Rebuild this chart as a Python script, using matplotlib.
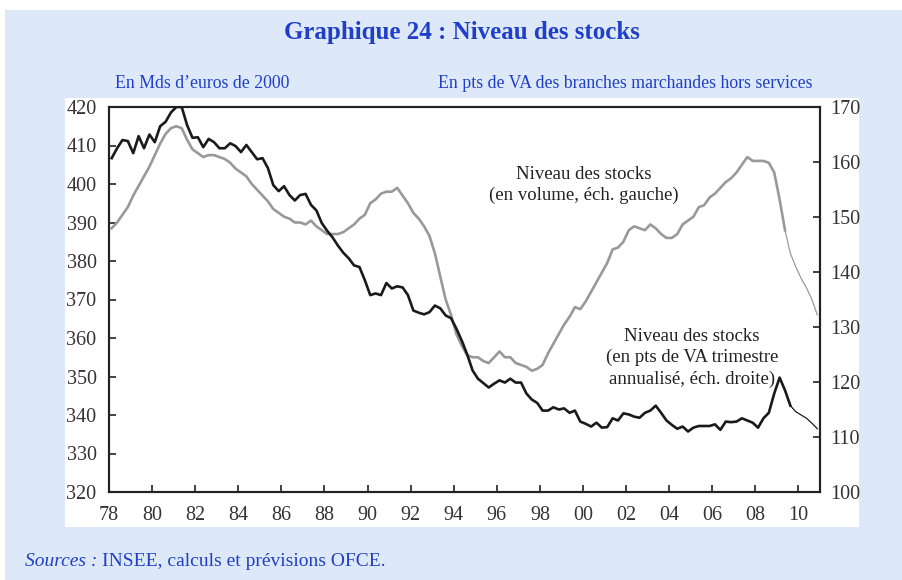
import matplotlib.pyplot as plt
import numpy as np

# Quarterly data 1978Q1 - 2010Q4
start_year = 1978

# Stock level in volume (bn euros 2000, left axis)
stocks_volume = [
    388.5, 390, 392, 394,
    397, 399.5, 402, 404.5,
    407.5, 410.5, 413, 414.5,
    415, 414.5, 411.5, 409,
    408, 407, 407.5, 407.5,
    407, 406.5, 405.5, 404,
    403, 402, 400, 398.5,
    397, 395.5, 393.5, 392.5,
    391.5, 391, 390, 390,
    389.5, 390.5, 389, 388,
    387, 387, 387, 387.5,
    388.5, 389.5, 391, 392,
    395, 396, 397.5, 398,
    398, 399, 397, 395,
    392.5, 391, 389, 386.5,
    382, 376, 370, 366,
    361, 358, 355.5, 355,
    355, 354, 353.5, 355,
    356.5, 355, 355, 353.5,
    353, 352.5, 351.5, 352,
    353, 356, 358.5, 361,
    363.5, 365.5, 368, 367.5,
    369.5, 372, 374.5, 377,
    379.5, 383, 383.5, 385,
    388, 389, 388.5, 388,
    389.5, 388.5, 387, 386,
    386, 387, 389.5, 390.5,
    391.5, 394, 394.5, 396.5,
    397.5, 399, 400.5, 401.5,
    403, 405, 407, 406,
    406, 406, 405.5, 403,
    396, 388, 382, 378.5,
    375.5, 373, 370, 366,
]

# Stock level in pts of quarterly VA annualised (right axis)
stocks_va = [
    160.7, 162.5, 164, 163.8,
    161.6, 164.7, 162.5, 165,
    163.6, 166.5, 167.3, 169,
    170, 170, 166.7, 164.4,
    164.5, 162.7, 164.2, 163.6,
    162.5, 162.5, 163.4, 162.9,
    161.8, 163.1, 161.8, 160.5,
    160.7, 158.9, 155.8, 154.7,
    155.6, 154, 153, 154,
    154.2, 152.2, 151.2, 148.9,
    147.5, 146.3, 144.8, 143.5,
    142.5, 141.2, 140.9, 138.5,
    135.8, 136.1, 135.8, 138,
    137, 137.4, 137.2, 135.8,
    133, 132.6, 132.3, 132.7,
    133.9, 133.4, 132.1, 131.6,
    129.7, 127.5, 125, 122.1,
    120.6, 119.8, 119, 119.7,
    120.3, 119.9, 120.6, 119.9,
    119.9, 117.9, 116.8, 116.2,
    114.8, 114.8, 115.4, 115,
    115.2, 114.4, 114.8, 112.8,
    112.4, 111.9, 112.6, 111.7,
    111.8, 113.4, 113, 114.3,
    114.1, 113.7, 113.5, 114.4,
    114.8, 115.7, 114.4, 113,
    112.2, 111.5, 111.9, 111,
    111.7, 112, 112, 112,
    112.3, 111.3, 112.8, 112.7,
    112.8, 113.4, 113, 112.6,
    111.7, 113.4, 114.4, 117.9,
    120.8, 118.5, 115.7, 114.6,
    114, 113.4, 112.5, 111.5,
]

forecast_start = 125  # 2009Q2, thin line after that
year_ticks = list(range(1978, 2011, 2))
year_labels = ['%02d' % (y % 100) for y in year_ticks]

t = start_year + (np.arange(len(stocks_volume)) + 0.5) / 4
vol = np.array(stocks_volume)
va = np.array(stocks_va)

blue_bg = '#dde9f8'
blue_txt = '#1f3fc8'
plt.rcParams['font.family'] = ['Liberation Serif', 'DejaVu Serif']

fig = plt.figure(figsize=(9.02, 5.8), dpi=100)
fig.patch.set_facecolor('white')
# background panels
fig.patches.append(plt.Rectangle((5 / 902, 0), 897 / 902, 570 / 580, transform=fig.transFigure,
                                 facecolor=blue_bg, edgecolor='none', zorder=-2))
fig.patches.append(plt.Rectangle((65 / 902, 53 / 580), 794 / 902, 429 / 580, transform=fig.transFigure,
                                 facecolor='white', edgecolor='none', zorder=-1))

ax = fig.add_axes([109 / 902, 88 / 580, 711 / 902, 385 / 580])
ax2 = ax.twinx()

ax.plot(t[:forecast_start + 1], vol[:forecast_start + 1], color='#999999', lw=1.9, zorder=2)
ax.plot(t[forecast_start:], vol[forecast_start:], color='#999999', lw=0.9, zorder=2)
ax2.plot(t[:forecast_start + 2], va[:forecast_start + 2], color='#1a1a1a', lw=1.9, zorder=3)
ax2.plot(t[forecast_start + 1:], va[forecast_start + 1:], color='#1a1a1a', lw=0.9, zorder=3)

ax.set_xlim(1978, 2011)
ax.set_ylim(320, 420)
ax2.set_ylim(100, 170)
ax.set_yticks(range(320, 421, 10))
ax2.set_yticks(range(100, 171, 10))
ax.set_xticks(year_ticks)
ax.set_xticklabels(year_labels)

for a in (ax, ax2):
    for s in a.spines.values():
        s.set_linewidth(1.5)
        s.set_color('#222222')
    a.tick_params(direction='in', length=5, width=1.2, colors='#222222',
                  labelsize=14.5, labelcolor='#333333')
ax.tick_params(axis='x', pad=10)
ax.tick_params(axis='y', pad=9)
ax2.tick_params(axis='y', pad=7)
ax.set_facecolor('white')

fig.text(462 / 902, 1 - 33 / 580, 'Graphique 24 : Niveau des stocks', ha='center', va='center',
         fontsize=18, fontweight='bold', color=blue_txt)
fig.text(115 / 902, 1 - 83 / 580, 'En Mds d\u2019euros de 2000', ha='left', va='center',
         fontsize=12.8, color=blue_txt)
fig.text(812 / 902, 1 - 83 / 580, 'En pts de VA des branches marchandes hors services', ha='right',
         va='center', fontsize=12.8, color=blue_txt)

fig.text(584 / 902, 1 - 185 / 580, 'Niveau des stocks\n(en volume, éch. gauche)', ha='center',
         va='center', fontsize=13.5, color='#222222', linespacing=1.35)
fig.text(692 / 902, 1 - 358 / 580, 'Niveau des stocks\n(en pts de VA trimestre\nannualisé, éch. droite)',
         ha='center', va='center', fontsize=13.5, color='#222222', linespacing=1.35)

src = fig.text(25 / 902, 1 - 562 / 580, 'Sources :', ha='left', va='center', fontsize=14,
               style='italic', color=blue_txt)
fig.canvas.draw()
bb = src.get_window_extent()
fig.text((bb.x1 + 5) / 902, 1 - 562 / 580, 'INSEE, calculs et prévisions OFCE.', ha='left',
         va='center', fontsize=14, color=blue_txt)

fig.savefig('out.png', dpi=100)
